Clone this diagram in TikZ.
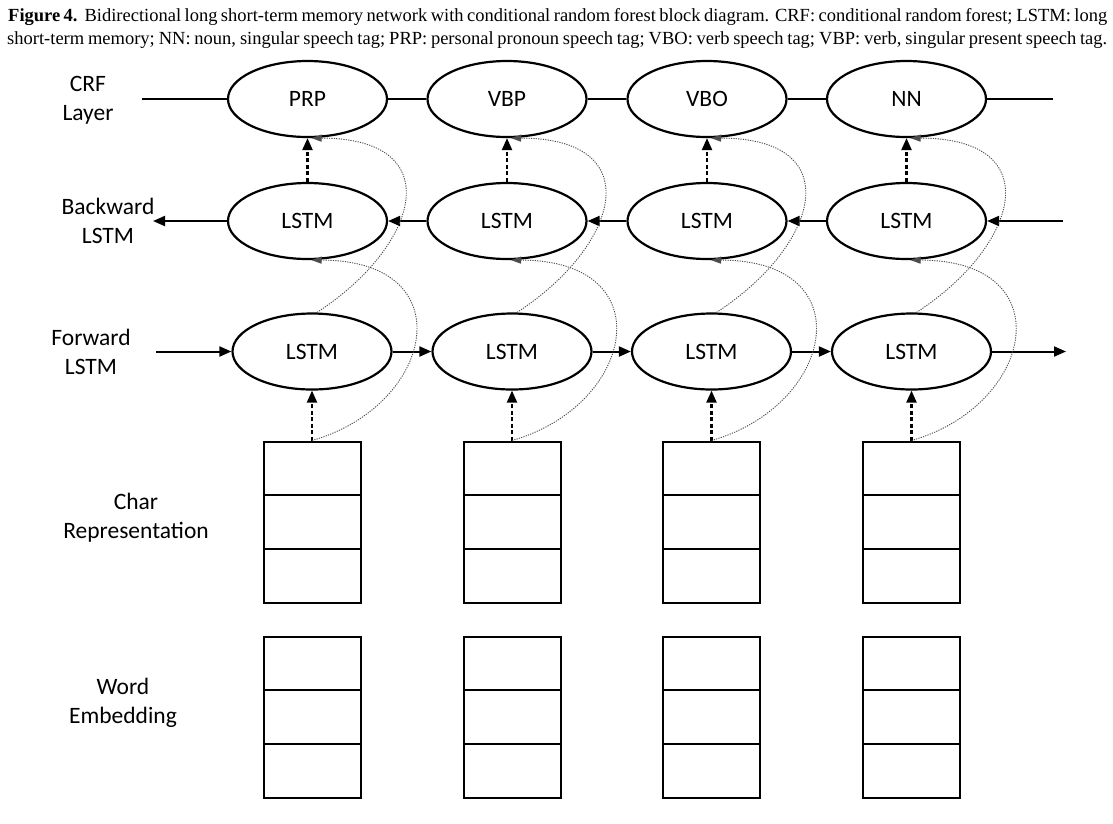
\documentclass[tikz,border=0pt]{standalone}
\usepackage{fontspec}
\setmainfont{Liberation Serif}
\newfontfamily\calib{Carlito}
\usetikzlibrary{arrows.meta,calc,shapes.geometric}
\begin{document}
\begin{tikzpicture}[x=1pt,y=-1pt,
  lbl/.style={font=\calib\fontsize{23.5}{29}\selectfont, align=center, inner sep=0},
  ell/.style={ellipse, draw, line width=2.2pt, minimum width=159pt, minimum height=76pt, inner sep=0, font=\calib\fontsize{23.5}{28}\selectfont},
  vec/.style={draw, line width=2pt, minimum width=97pt, minimum height=161pt, inner sep=0},
  link/.style={line width=2pt},
  arr/.style={line width=2pt, -{Triangle[length=12pt,width=10pt]}},
  dasharr/.style={line width=2.2pt, dash pattern=on 4pt off 2.5pt, -{Triangle[length=12pt,width=10pt]}},
  skip/.style={line width=0.9pt, gray!60!black, dash pattern=on 1.2pt off 1.2pt, -{Triangle[length=10pt,width=7pt]}},
  divider/.style={line width=2pt}]
\useasboundingbox (0,0) rectangle (1113,823);

% caption
\node[anchor=base west, inner sep=0] (cap1) at (8,21) {\fontsize{18.5}{22}\selectfont\makebox[1099pt][s]{\textbf{Figure 4.}\ \ Bidirectional long short-term memory network with conditional random forest block diagram. CRF: conditional random forest; LSTM: long}};
\node[anchor=base west, inner sep=0] (cap2) at (7,44) {\fontsize{18.5}{22}\selectfont\makebox[1100pt][s]{short-term memory; NN: noun, singular speech tag; PRP: personal pronoun speech tag; VBO: verb speech tag; VBP: verb, singular present speech tag.}};

% row labels
\node[lbl] (lcrf) at (88,100) {CRF\\Layer};
\node[lbl] (lbw) at (108,221) {Backward\\LSTM};
\node[lbl] (lfw) at (91,351.5) {Forward\\LSTM};
\node[lbl] (lch) at (136,517.5) {Char\\Representation};
\node[lbl] (lwd) at (123,702.5) {Word\\Embedding};

% columns
\foreach \i/\cx/\fx/\t in {1/307.5/312/PRP, 2/507/512/VBP, 3/707/711.5/VBO, 4/906.5/911.5/NN}{
  \node[ell] (crf\i) at (\cx,99) {\t};
  \node[ell] (bw\i) at (\cx,221) {LSTM};
  \node[ell] (fw\i) at (\fx,351.5) {LSTM};
  \node[vec] (ch\i) at (\fx,522) {};
  \node[vec] (wd\i) at (\fx,717) {};
  \foreach \b in {ch\i, wd\i}{
    \draw[divider] ($(\b.north west)!1/3!(\b.south west)$) -- ($(\b.north east)!1/3!(\b.south east)$);
    \draw[divider] ($(\b.north west)!2/3!(\b.south west)$) -- ($(\b.north east)!2/3!(\b.south east)$);
  }
  \draw[dasharr] (bw\i.north) -- (crf\i.south);
  \draw[dasharr] (ch\i.north) -- (fw\i.south);
}

% free ends
\coordinate (crfL) at (142,99);
\coordinate (crfR) at (1053,99);
\coordinate (bwL) at (153,221);
\coordinate (bwR) at (1063,221);
\coordinate (fwL) at (156,351.5);
\coordinate (fwR) at (1066,351.5);

% CRF chain
\draw[link] (crfL) -- (crf1.west);
\draw[link] (crf1.east) -- (crf2.west);
\draw[link] (crf2.east) -- (crf3.west);
\draw[link] (crf3.east) -- (crf4.west);
\draw[link] (crf4.east) -- (crfR);

% backward chain
\draw[arr] (bw1.west) -- (bwL);
\draw[arr] (bw2.west) -- (bw1.east);
\draw[arr] (bw3.west) -- (bw2.east);
\draw[arr] (bw4.west) -- (bw3.east);
\draw[arr] (bwR) -- (bw4.east);

% forward chain
\draw[arr] (fwL) -- (fw1.west);
\draw[arr] (fw1.east) -- (fw2.west);
\draw[arr] (fw2.east) -- (fw3.west);
\draw[arr] (fw3.east) -- (fw4.west);
\draw[arr] (fw4.east) -- (fwR);

% dotted skip connections
\foreach \i in {1,2,3,4}{
  \draw[skip] ($(fw\i.north)+(5,0)$) .. controls +(103,-67) and +(138,0) .. ($(crf\i.south)+(4,0)$);
  \draw[skip] (ch\i.north) .. controls +(123,-35) and +(153,0) .. ($(bw\i.south)+(4,0)$);
}
\end{tikzpicture}
\end{document}
